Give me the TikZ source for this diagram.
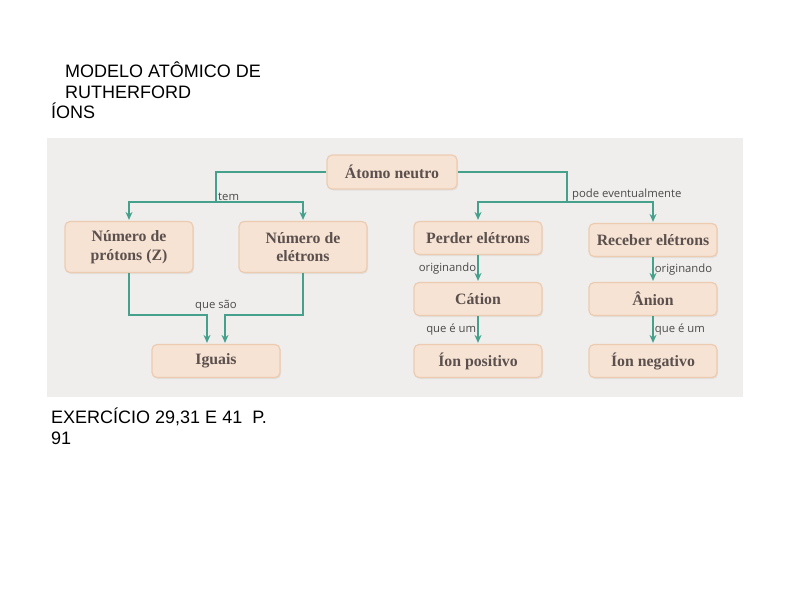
\documentclass[tikz,border=0pt]{standalone}
\usepackage{fontspec}
\setmainfont{Liberation Sans}
\newfontfamily\boxfont{Liberation Serif}
\newfontfamily\labelfont{Open Sans}
\usepackage{xcolor}
\usepackage{tikz}
\usetikzlibrary{arrows, arrows.meta, shadows}

\definecolor{boxfill}{HTML}{F6E3D4}
\definecolor{boxline}{HTML}{ECCBB1}
\definecolor{boxtext}{HTML}{5B504D}
\definecolor{labeltext}{HTML}{4A4A4A}
\definecolor{photobg}{HTML}{F0EEEC}
\definecolor{linkgreen}{HTML}{45A18B}

\begin{document}
\begin{tikzpicture}[
    x=1pt, y=-1pt,
    box/.style = {rectangle, draw=boxline, fill=boxfill, line width=1.2pt, rounded corners=5pt, minimum width=128pt, minimum height=33pt, align=center, text=boxtext, font=\boxfont\bfseries\fontsize{15.8}{18.5}\selectfont, drop shadow={opacity=0.12, shadow xshift=1pt, shadow yshift=-1.5pt}},
    tall/.style = {minimum height=51pt},
    link/.style = {draw=linkgreen, line width=1.8pt},
    arrow/.style = {link, -{Stealth[length=8pt, width=7pt]}, shorten >=1pt},
    lbl/.style = {font=\labelfont\fontsize{11.3}{13}\selectfont, text=labeltext, inner sep=1pt},
    slide/.style = {font=\fontsize{18}{21}\selectfont, inner sep=0pt, anchor=base west}
]

% Page and photo area
\fill[white] (0,0) rectangle (794,595);
\useasboundingbox (0,0) rectangle (794,595);
\fill[photobg] (47,138) rectangle (743,397);

% Slide text
\node (titulo1) [slide] at (65,77) {MODELO ATÔMICO DE};
\node (titulo2) [slide] at (65,98) {RUTHERFORD};
\node (ions) [slide] at (51,118) {ÍONS};
\node (exercicio) [slide] at (51,423) {EXERCÍCIO 29,31 E 41~~P.};
\node (pagina) [slide] at (51,444) {91};

% Concept boxes
\node (atomo) [box, minimum width=130pt, minimum height=34pt] at (392,172) {Átomo neutro};
\node (protons) [box, tall] at (129,247) {Número de\\prótons (Z)};
\node (eletrons) [box, tall] at (303,247) {Número de\\elétrons};
\node (perder) [box] at (478,238) {Perder elétrons};
\node (receber) [box] at (653,240) {Receber elétrons};
\node (cation) [box] at (478,299) {Cátion};
\node (anion) [box] at (653,299) {Ânion};
\node (iguais) [box] at (216,361) {Iguais};
\node (positivo) [box] at (478,361) {Íon positivo};
\node (negativo) [box] at (653,361) {Íon negativo};

% Branch points
\coordinate (temsplit) at (216,202);
\coordinate (podesplit) at (567,202);
\coordinate (saoleft) at (207,315);
\coordinate (saoright) at (225,315);

% Arrows
\draw [link] (atomo.west) -| (temsplit);
\draw [arrow] (temsplit) -| (protons.north);
\draw [arrow] (temsplit) -| (eletrons.north);
\draw [link] (atomo.east) -| (podesplit);
\draw [arrow] (podesplit) -| (perder.north);
\draw [arrow] (podesplit) -| (receber.north);
\draw [arrow] (perder) -- node[lbl, left] (orig1) {originando} (cation);
\draw [arrow] (receber) -- node[lbl, right] (orig2) {originando} (anion);
\draw [arrow] (cation) -- node[lbl, left] (queum1) {que é um} (positivo);
\draw [arrow] (anion) -- node[lbl, right] (queum2) {que é um} (negativo);
\draw [arrow] (protons.south) |- (saoleft) -- (saoleft |- iguais.north);
\draw [arrow] (eletrons.south) |- (saoright) -- (saoright |- iguais.north);

% Connector labels
\node (tem) [lbl, anchor=base west] at (217,200) {tem};
\node (pode) [lbl, anchor=base west] at (571,197) {pode eventualmente};
\node (quesao) [lbl, anchor=base] at (216,308) {que são};

\end{tikzpicture}
\end{document}
